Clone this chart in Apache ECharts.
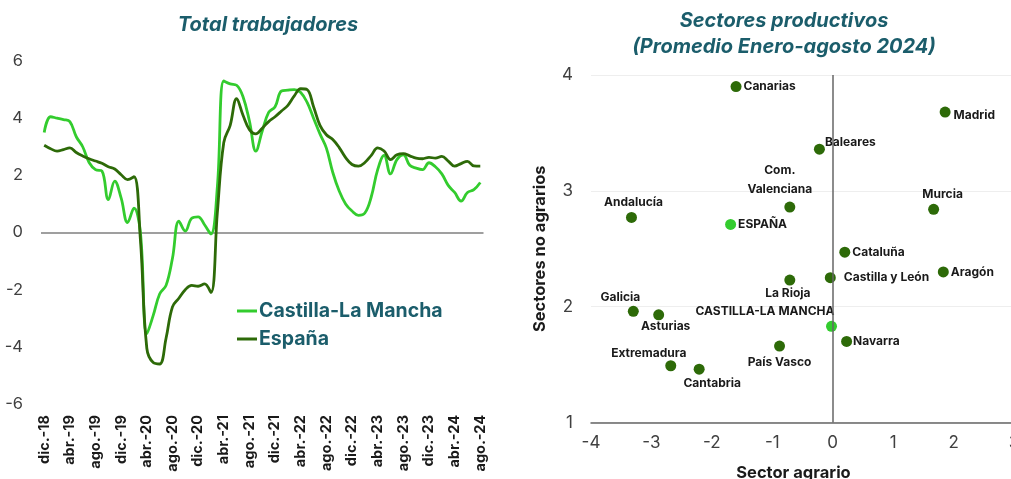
<!DOCTYPE html>
<html><head><meta charset="utf-8">
<script src="https://cdn.jsdelivr.net/npm/echarts@6/dist/echarts.min.js"></script>
<style>html,body{margin:0;padding:0;background:#fff}#c{width:1011px;height:479px}</style>
</head><body><div id="c"></div>
<script>
// ---------- Left chart data (monthly, dic.-18 .. ago.-24) ----------
const monthAbbr = ['ene.','feb.','mar.','abr.','may.','jun.','jul.','ago.','sep.','oct.','nov.','dic.'];
const months = [];
for (let k = 0; k < 69; k++) {
  const m = (11 + k) % 12;
  const y = 18 + Math.floor((11 + k) / 12);
  months.push(monthAbbr[m] + '-' + y);
}
const clm = [3.5,4.05,4.0,3.95,3.88,3.35,3.0,2.45,2.2,2.15,1.15,1.8,1.2,0.35,0.85,0.0,
  -3.55,-2.9,-2.15,-1.85,-0.9,0.4,0.05,0.5,0.55,0.27,-0.05,1.6,5.3,5.2,5.15,4.75,3.9,2.85,
  3.55,4.2,4.4,4.95,4.98,5.0,4.9,4.55,4.0,3.45,2.95,2.1,1.45,1.0,0.75,0.6,0.68,1.25,2.2,
  2.7,2.05,2.55,2.72,2.35,2.25,2.2,2.44,2.3,2.05,1.65,1.4,1.1,1.4,1.5,1.75];
const esp = [3.05,2.93,2.85,2.9,2.96,2.8,2.68,2.58,2.5,2.42,2.3,2.22,2.02,1.85,1.95,-0.25,
  -4.05,-4.55,-4.6,-3.7,-2.6,-2.3,-2.0,-1.85,-1.88,-1.8,-2.1,0.7,3.15,3.75,4.68,4.1,3.6,3.45,
  3.65,3.88,4.05,4.25,4.45,4.78,5.03,5.0,4.4,3.75,3.42,3.25,2.97,2.62,2.38,2.32,2.45,2.7,2.96,
  2.85,2.55,2.72,2.76,2.68,2.6,2.58,2.63,2.6,2.66,2.5,2.32,2.41,2.49,2.33,2.32];
const leftTicks = {min: -6, max: 6, interval: 2};

// ---------- Right chart data ----------
const regions = ['Canarias','Madrid','Baleares','Com.\nValenciana','Murcia','Andalucía','ESPAÑA',
  'Cataluña','Aragón','Castilla y León','La Rioja','CASTILLA-LA MANCHA','Navarra','País Vasco',
  'Galicia','Asturias','Extremadura','Cantabria'];
const agrario = [-1.60,1.86,-0.22,-0.71,1.67,-3.33,-1.69,0.20,1.83,-0.04,-0.71,-0.02,0.23,-0.88,-3.30,-2.88,-2.68,-2.21];
const noAgrario = [3.90,3.68,3.36,2.86,2.84,2.77,2.71,2.47,2.30,2.25,2.23,1.83,1.70,1.66,1.96,1.93,1.49,1.46];
const highlight = ['ESPAÑA','CASTILLA-LA MANCHA'];

// ---------- styles ----------
const C_LIGHT = '#33cc2e', C_DARK = '#2d6a08', TEAL = '#1b5d6b';
const labelCfg = {
  'Canarias': {position:'right', distance:2},
  'Madrid': {position:'right', distance:3, offset:[0,3]},
  'Baleares': {position:'right', distance:0, offset:[0,-7]},
  'Com.\nValenciana': {position:'top', distance:3, offset:[-10,0], lineHeight:19},
  'Murcia': {position:'top', distance:3, offset:[9,0]},
  'Andalucía': {position:'top', distance:4, offset:[2,0]},
  'ESPAÑA': {position:'right', distance:2},
  'Cataluña': {position:'right', distance:2},
  'Aragón': {position:'right', distance:2},
  'Castilla y León': {position:'right', distance:8},
  'La Rioja': {position:'bottom', distance:2, offset:[-2,0]},
  'CASTILLA-LA MANCHA': {position:'top', distance:3, align:'right', offset:[3,0]},
  'Navarra': {position:'right', distance:1},
  'País Vasco': {position:'bottom', distance:5, offset:[0,0]},
  'Galicia': {position:'top', distance:2, offset:[-13,0]},
  'Asturias': {position:'bottom', distance:0, offset:[7,0]},
  'Extremadura': {position:'top', distance:1, offset:[-22,0]},
  'Cantabria': {position:'bottom', distance:3, offset:[13,0]}
};

const scatterData = regions.map((n, i) => ({
  name: n,
  value: [agrario[i], noAgrario[i]],
  itemStyle: {color: highlight.includes(n) ? C_LIGHT : C_DARK, opacity: 1},
  label: Object.assign({show:true, formatter:'{b}', color:'#1a1a1a', fontSize:12, fontWeight:'bold',
    fontFamily:'Inter'}, labelCfg[n])
}));

const chart = echarts.init(document.getElementById('c'));
chart.setOption({
  animation: false,
  textStyle: {fontFamily: 'Inter'},
  title: [
    {text:'Total trabajadores', left:263, top:10, textAlign:'center',
     textStyle:{fontSize:20, fontStyle:'italic', fontWeight:'bold', color:TEAL, fontFamily:'Inter'}},
    {text:'Sectores productivos\n(Promedio Enero-agosto 2024)', left:779, top:3, textAlign:'center',
     textStyle:{fontSize:20, fontStyle:'italic', fontWeight:'bold', color:TEAL, lineHeight:26, fontFamily:'Inter'}}
  ],
  legend: {
    data:['Castilla-La Mancha','España'], orient:'vertical', left:232, top:296,
    icon:'rect', itemWidth:20, itemHeight:3, itemGap:8,
    textStyle:{fontSize:19.5, fontWeight:'bold', color:TEAL, fontFamily:'Inter', padding:[0,0,0,-3]}
  },
  grid: [
    {left:41, top:61, width:442.5, height:343, outerBoundsMode:'none'},
    {left:591, top:75, width:423, height:347.5, outerBoundsMode:'none'}
  ],
  xAxis: [
    {type:'category', gridIndex:0, data:months, boundaryGap:true,
     axisLine:{show:false}, axisTick:{show:false},
     axisLabel:{interval:3, rotate:90, margin:11, fontSize:14.5, fontWeight:'bold', color:'#1a1a1a', fontFamily:'Inter'}},
    {type:'value', gridIndex:1, min:-4, max:3, interval:1,
     axisLine:{show:true, onZero:false, lineStyle:{color:'#666', width:1.5}}, axisTick:{show:false},
     splitLine:{show:false},
     axisLabel:{fontSize:17, color:'#404040', margin:12, fontFamily:'Inter'},
     name:'Sector agrario', nameLocation:'middle', nameGap:42,
     nameTextStyle:{fontSize:16.5, fontWeight:'bold', color:'#1a1a1a', fontFamily:'Inter', padding:[0,18,0,0]}}
  ],
  yAxis: [
    {type:'value', gridIndex:0, min:leftTicks.min, max:leftTicks.max, interval:leftTicks.interval,
     axisLine:{show:false}, axisTick:{show:false}, splitLine:{show:false},
     axisLabel:{fontSize:16.5, color:'#404040', margin:18, fontFamily:'Inter'}},
    {type:'value', gridIndex:1, min:1, max:4, interval:1,
     axisLine:{show:false}, axisTick:{show:false},
     splitLine:{show:true, lineStyle:{color:'#eeeeee', width:1}},
     axisLabel:{fontSize:17, color:'#404040', margin:18, fontFamily:'Inter'},
     name:'Sectores no agrarios', nameLocation:'middle', nameGap:42,
     nameTextStyle:{fontSize:16.5, fontWeight:'bold', color:'#1a1a1a', fontFamily:'Inter'}}
  ],
  series: [
    {name:'Castilla-La Mancha', type:'line', xAxisIndex:0, yAxisIndex:0, data:clm, smooth:0.4,
     showSymbol:false, lineStyle:{color:C_LIGHT, width:2.8}, itemStyle:{color:C_LIGHT}, z:3,
     markLine:{silent:true, symbol:'none', label:{show:false}, z:1,
       lineStyle:{color:'#7f7f7f', width:1.5, type:'solid'}, data:[{yAxis:0}]}},
    {name:'España', type:'line', xAxisIndex:0, yAxisIndex:0, data:esp, smooth:0.4,
     showSymbol:false, lineStyle:{color:C_DARK, width:2.8}, itemStyle:{color:C_DARK}, z:4},
    {name:'regiones', type:'scatter', xAxisIndex:1, yAxisIndex:1, symbolSize:11, data:scatterData,
     markLine:{silent:true, symbol:'none', label:{show:false},
       lineStyle:{color:'#666', width:1.5, type:'solid'}, data:[{xAxis:0}]}}
  ]
});
</script></body></html>
